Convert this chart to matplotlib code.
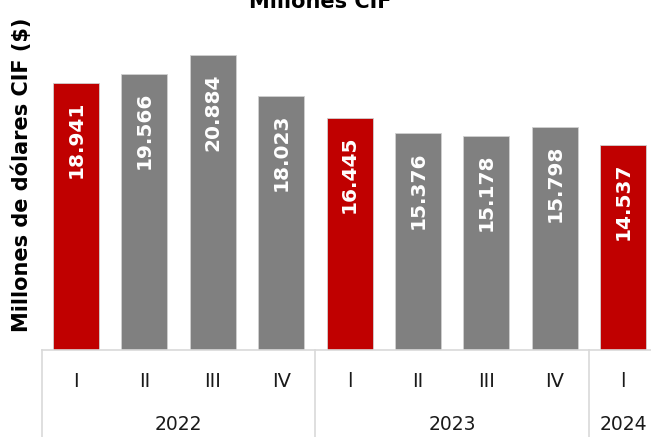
import matplotlib
matplotlib.use("Agg")
import matplotlib.pyplot as plt

quarters = ["I", "II", "III", "IV", "l", "II", "III", "IV", "l"]
years = ["2022", "2023", "2024"]
year_spans = [(0, 3), (4, 7), (8, 8)]
values = [18.941, 19.566, 20.884, 18.023, 16.445, 15.376, 15.178, 15.798, 14.537]
labels = ["18.941", "19.566", "20.884", "18.023", "16.445", "15.376", "15.178", "15.798", "14.537"]
colors = ["#C00000", "#808080", "#808080", "#808080", "#C00000",
          "#808080", "#808080", "#808080", "#C00000"]

fig = plt.figure(figsize=(6.51, 4.37), dpi=100)
ax = fig.add_axes([41.8 / 651, 87 / 437, 615.6 / 651, 350 / 437])

x = list(range(len(values)))
ax.bar(x, values, width=0.67, color=colors, edgecolor="#d0d0d0", linewidth=0.6)

for xi, v, lab in zip(x, values, labels):
    ax.annotate(lab, (xi, v), xytext=(0, -13), textcoords="offset points",
                rotation=90, ha="center", va="top", color="white",
                fontsize=14.5, fontweight="bold")

ax.set_xlim(-0.5, 8.5)
ax.set_ylim(0, 24.8)
for s in ["top", "right", "left", "bottom"]:
    ax.spines[s].set_visible(False)
ax.set_xticks([])
ax.set_yticks([])

tr = ax.get_xaxis_transform()
line_c = "#d9d9d9"
ax.plot([-0.5, 8.6], [0, 0], transform=tr, color=line_c, lw=1.2, clip_on=False)
for sx in [-0.5, 3.5, 7.5]:
    ax.plot([sx, sx], [0, -0.26], transform=tr, color=line_c, lw=1.2, clip_on=False)

for xi, q in zip(x, quarters):
    ax.text(xi, -0.089, q, transform=tr, ha="center", va="center",
            fontsize=14, color="#1a1a1a")
for yr, (a, b) in zip(years, year_spans):
    ax.text((a + b) / 2, -0.214, yr, transform=tr, ha="center", va="center",
            fontsize=13.5, color="#1a1a1a")

fig.text(0.034, 0.6, "Millones de dólares CIF ($)", rotation=90,
         ha="center", va="center", fontsize=15, fontweight="bold")
fig.text(320 / 651, 1 - 8 / 437, "Millones CIF", ha="center", va="baseline",
         fontsize=15, fontweight="bold")

fig.savefig("out.png", dpi=100)
